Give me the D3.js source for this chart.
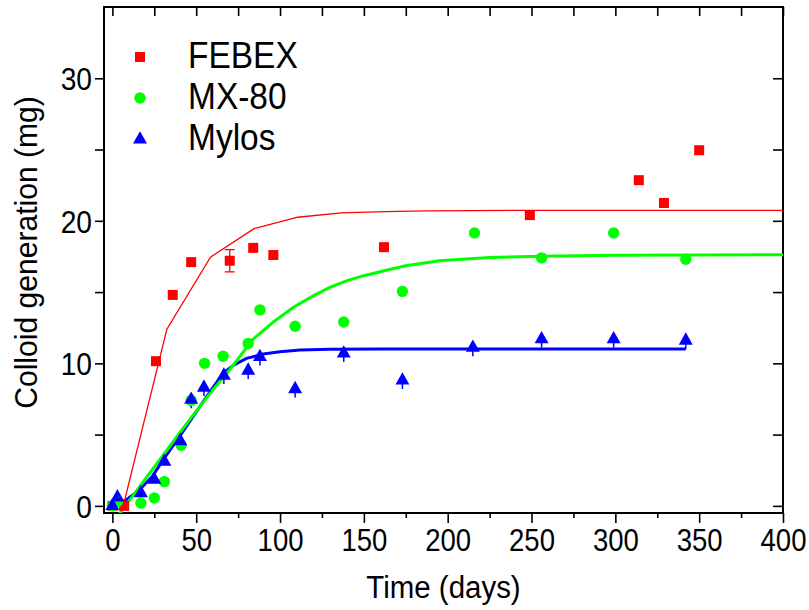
<!DOCTYPE html>
<html><head><meta charset="utf-8">
<script src="https://cdn.jsdelivr.net/npm/d3@7"></script>
<style>body{margin:0;background:#fff}svg{display:block}</style>
</head><body>
<svg id="c" width="809" height="610"></svg>
<script>
// ---- data ----
const seriesNames = ["FEBEX", "MX-80", "Mylos"];
const febexX = [0, 7, 26, 36, 47, 70, 84, 96, 162, 249, 314, 329, 350];
const febexY = [0, 0, 10.15, 14.8, 17.1, 17.2, 18.1, 17.6, 18.15, 20.4, 22.85, 21.25, 24.95];
const febexErr = [0, 0, 0, 0, 0, 0.78, 0, 0, 0, 0, 0, 0, 0];
const mx80X = [0, 3, 17, 25, 31, 41, 47, 55, 66, 81, 88, 109, 138, 173, 216, 256, 299, 342];
const mx80Y = [0, 0.3, 0.2, 0.55, 1.7, 4.25, 7.4, 10.0, 10.5, 11.4, 13.75, 12.6, 12.9, 15.05, 19.15, 17.4, 19.15, 17.3];
const mylosX = [0, 3, 17, 25, 31, 40.5, 47, 54.6, 66.5, 81, 88, 109, 138, 173, 215, 256, 299, 342];
const mylosY = [0.1, 0.7, 1.0, 1.95, 3.2, 4.65, 7.55, 8.4, 9.25, 9.6, 10.55, 8.3, 10.8, 8.9, 11.2, 11.8, 11.8, 11.7];
const mylosErrLow = [0, 0, 0, 0, 0, 0, 0.7, 0.7, 0.7, 0.7, 0.7, 0.7, 0.7, 0.7, 0.7, 0.7, 0.7, 0.7];
// fitted curves
const febexFitX = [6.5, 32.5, 58.5, 84.5, 110.5, 136.5, 162.5, 188.5, 214.5, 240.5, 266.5, 292.5, 318.5, 344.5, 370.5, 396.5, 400];
const febexFitY = [0, 12.4, 17.45, 19.45, 20.25, 20.55, 20.65, 20.7, 20.72, 20.73, 20.73, 20.73, 20.73, 20.73, 20.73, 20.73, 20.73];
const mx80FitX = [4, 10, 20, 30, 40, 50, 60, 70, 84, 96, 108, 120, 130, 140, 150, 162, 175, 195, 225, 255, 300, 350, 400];
const mx80FitY = [-0.6, 0.35, 1.95, 3.5, 5.1, 6.65, 8.15, 9.55, 11.7, 12.9, 13.94, 14.75, 15.34, 15.8, 16.15, 16.5, 16.85, 17.19, 17.43, 17.52, 17.58, 17.6, 17.62];
const mylosFitX = [0, 8, 16, 24, 31, 40, 50, 60, 66, 72, 80, 90, 100, 112, 130, 160, 342];
const mylosFitY = [0.05, 0.4, 1.1, 2.1, 3.35, 4.85, 6.6, 8.3, 9.3, 9.85, 10.35, 10.65, 10.82, 10.93, 10.98, 11.0, 11.0];
const xMajorTicks = [0, 50, 100, 150, 200, 250, 300, 350, 400];
const xMinorTicks = [25, 75, 125, 175, 225, 275, 325, 375];
const yMajorTicks = [0, 10, 20, 30];
const yMinorTicks = [5, 15, 25];
const xTitle = "Time (days)";
const yTitle = "Colloid generation (mg)";

const RED = "#ff0000", GREEN = "#00ff00", BLUE = "#0000ff";
const FONT = "'Liberation Sans', Arial, Helvetica, sans-serif";

const svg = d3.select("#c");
const L = 104, R = 783, T = 7, B = 513;
const x = d3.scaleLinear().domain([-5, 400]).range([L, R]);
const y = d3.scaleLinear().domain([-0.5, 35]).range([B, T]);

function squeeze(sel, f) {
  sel.each(function () {
    const n = this.getComputedTextLength();
    d3.select(this).attr("textLength", n * f).attr("lengthAdjust", "spacingAndGlyphs");
  });
}

svg.append("defs").append("clipPath").attr("id", "clip")
  .append("rect").attr("x", L).attr("y", T).attr("width", R - L).attr("height", B - T);

// ---- axes ----
function styleAxis(g) {
  g.select(".domain").remove();
  g.selectAll(".tick line").attr("stroke", "#000").attr("stroke-width", 1.6);
}
const fmt = d3.format("d");
const gxb = svg.append("g").attr("transform", `translate(0,${B})`)
  .call(d3.axisBottom(x).tickValues(xMajorTicks).tickSize(10).tickPadding(6).tickFormat(fmt));
styleAxis(gxb);
gxb.selectAll("text").attr("font-family", FONT).attr("font-size", 32).attr("fill", "#000").attr("dy", "0.71em").attr("y", 15);
svg.append("g").attr("transform", `translate(0,${B})`)
  .call(d3.axisBottom(x).tickValues(xMinorTicks).tickSize(5).tickFormat("")).call(styleAxis);
svg.append("g").attr("transform", `translate(0,${T})`)
  .call(d3.axisBottom(x).tickValues(xMajorTicks.concat(xMinorTicks)).tickSize(9).tickFormat("")).call(styleAxis);

const gyl = svg.append("g").attr("transform", `translate(${L},0)`)
  .call(d3.axisLeft(y).tickValues(yMajorTicks).tickSize(9).tickPadding(3).tickFormat(fmt));
styleAxis(gyl);
gyl.selectAll("text").attr("font-family", FONT).attr("font-size", 32).attr("fill", "#000").attr("dy", "0.36em");
svg.append("g").attr("transform", `translate(${L},0)`)
  .call(d3.axisLeft(y).tickValues(yMinorTicks).tickSize(9).tickFormat("")).call(styleAxis);
svg.append("g").attr("transform", `translate(${R},0)`)
  .call(d3.axisLeft(y).tickValues(yMajorTicks.concat(yMinorTicks)).tickSize(10).tickFormat("")).call(styleAxis);

squeeze(gxb.selectAll("text"), 0.86);
squeeze(gyl.selectAll("text"), 0.88);

svg.append("rect").attr("x", L).attr("y", T).attr("width", R - L).attr("height", B - T)
  .attr("fill", "none").attr("stroke", "#000").attr("stroke-width", 2);

// titles
const xt = svg.append("text").attr("x", (363 + 524) / 2).attr("y", 598).attr("text-anchor", "middle")
  .attr("font-family", FONT).attr("font-size", 31).attr("fill", "#000").text(xTitle);
squeeze(xt, 0.95);
const yt = svg.append("text").attr("transform", `translate(37,${(95 + 410) / 2}) rotate(-90)`)
  .attr("text-anchor", "middle").attr("font-family", FONT).attr("font-size", 31).attr("fill", "#000").text(yTitle);
squeeze(yt, 0.97);

// ---- fitted lines ----
const plot = svg.append("g").attr("clip-path", "url(#clip)");
const line = d3.line().x(d => x(d[0])).y(d => y(d[1]));
const zip = (a, b) => a.map((v, i) => [v, b[i]]);
plot.append("path").datum(zip(mylosFitX, mylosFitY)).attr("d", line)
  .attr("fill", "none").attr("stroke", BLUE).attr("stroke-width", 3);
plot.append("path").datum(zip(mx80FitX, mx80FitY)).attr("d", line)
  .attr("fill", "none").attr("stroke", GREEN).attr("stroke-width", 3);
plot.append("path").datum(zip(febexFitX, febexFitY)).attr("d", line)
  .attr("fill", "none").attr("stroke", RED).attr("stroke-width", 1.3);

// ---- error bars ----
febexX.forEach((xv, i) => {
  const e = febexErr[i];
  if (!e) return;
  const cx = x(xv), y1 = y(febexY[i] + e), y2 = y(febexY[i] - e);
  plot.append("path").attr("d", `M${cx},${y1}V${y2}M${cx - 5},${y1}H${cx + 5}M${cx - 5},${y2}H${cx + 5}`)
    .attr("stroke", RED).attr("stroke-width", 1.3).attr("fill", "none");
});
mylosX.forEach((xv, i) => {
  const e = mylosErrLow[i];
  if (!e) return;
  plot.append("line").attr("x1", x(xv)).attr("x2", x(xv)).attr("y1", y(mylosY[i])).attr("y2", y(mylosY[i] - e))
    .attr("stroke", BLUE).attr("stroke-width", 1.5);
});

// ---- markers ----
function square(g, cx, cy, col) {
  g.append("rect").attr("x", cx - 5).attr("y", cy - 5).attr("width", 10).attr("height", 10).attr("fill", col);
}
function circle(g, cx, cy, col) {
  g.append("circle").attr("cx", cx).attr("cy", cy).attr("r", 5.7).attr("fill", col);
}
function tri(g, cx, cy, col) {
  g.append("path").attr("d", `M${cx},${cy - 6.8}L${cx + 7},${cy + 5.6}L${cx - 7},${cy + 5.6}Z`).attr("fill", col);
}
const mk = svg.append("g");
febexX.forEach((xv, i) => square(mk, x(xv), y(febexY[i]), RED));
mx80X.forEach((xv, i) => circle(mk, x(xv), y(mx80Y[i]), GREEN));
mylosX.forEach((xv, i) => tri(mk, x(xv), y(mylosY[i]), BLUE));

// ---- legend ----
const leg = svg.append("g");
const legY = [57, 98, 138];
const legBase = [68, 109, 150];
const drawers = [square, circle, tri];
const cols = [RED, GREEN, BLUE];
seriesNames.forEach((name, i) => {
  drawers[i](leg, 140, legY[i], cols[i]);
  const t = leg.append("text").attr("x", 188).attr("y", legBase[i]).attr("font-family", FONT)
    .attr("font-size", 36).attr("fill", "#000").text(name);
  squeeze(t, 0.93);
});
</script>
</body></html>
